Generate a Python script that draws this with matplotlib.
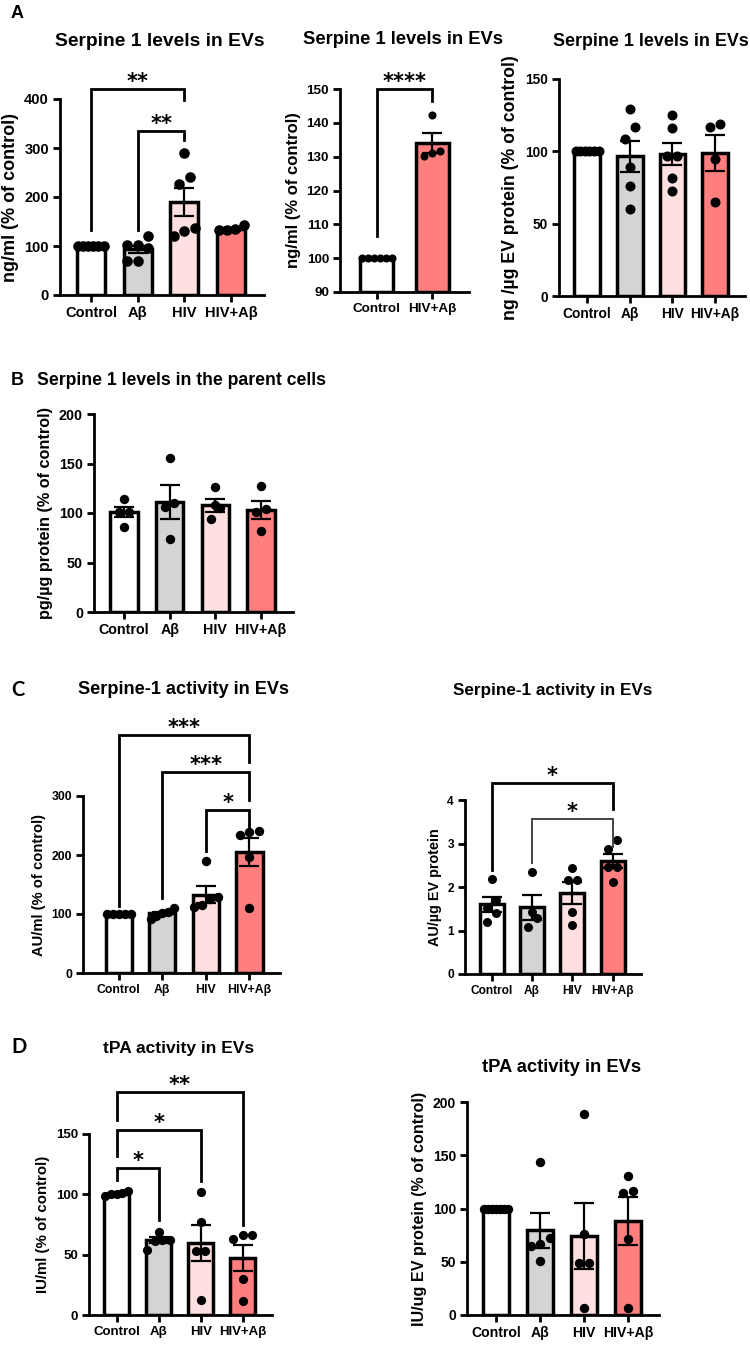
import numpy as np
import matplotlib
matplotlib.use("Agg")
import matplotlib.pyplot as plt

plt.rcParams["font.family"] = ["Liberation Sans", "DejaVu Sans"]
plt.rcParams["font.weight"] = "bold"

W, H = 750, 1348

GROUPS4 = ["Control", "Aβ", "HIV", "HIV+Aβ"]
GROUPS2 = ["Control", "HIV+Aβ"]
COL4 = ["#ffffff", "#d4d4d4", "#ffdfdf", "#ff7f7f"]
COL2 = ["#ffffff", "#ff7f7f"]

# --- A, left: Serpine 1 levels in EVs (ng/ml) ---
a1_mean = [100, 93, 190, 134]
a1_sem = [0, 8, 29, 3]
a1_pts = [[100] * 6,
          [120, 103, 103, 95, 69, 69],
          [289, 241, 227, 137, 131, 120],
          [143, 134, 132, 132]]

# --- A, middle: Control vs HIV+Abeta ---
a2_mean = [100, 134]
a2_sem = [0, 2.9]
a2_pts = [[100] * 6, [142.4, 131.8, 131.1, 130.3]]

# --- A, right: per ug EV protein ---
a3_mean = [100, 96.7, 98.1, 98.9]
a3_sem = [0, 10.7, 7.8, 12.3]
a3_pts = [[100] * 6,
          [129, 117, 108.5, 89.5, 75.7, 60],
          [125.3, 116.3, 96.5, 96.5, 81.5, 72.7],
          [119, 116.8, 94.6, 65.3]]

# --- B: parent cells ---
b_mean = [101, 111, 108, 103]
b_sem = [5, 17, 6.5, 9]
b_pts = [[114.5, 100.7, 100.7, 85.5],
         [155.2, 110, 105.7, 73.7],
         [126, 108.4, 105, 94],
         [127.6, 104.4, 100.7, 81.5]]

# --- C, left: Serpine-1 activity (AU/ml) ---
c1_mean = [100, 101, 133, 205]
c1_sem = [0, 3, 14, 24]
c1_pts = [[100] * 5,
          [111, 104, 101, 97, 92],
          [189, 128, 125, 115, 112],
          [241, 238.6, 234, 197.4, 111]]

# --- C, right: AU/ug EV protein ---
c2_mean = [1.6, 1.53, 1.86, 2.6]
c2_sem = [0.17, 0.28, 0.26, 0.17]
c2_pts = [[2.18, 1.70, 1.51, 1.41, 1.2],
          [2.34, 1.43, 1.28, 1.09],
          [2.44, 2.16, 2.16, 1.43, 1.13],
          [3.08, 2.87, 2.47, 2.47, 2.11]]

# --- D, left: tPA activity (IU/ml) ---
d1_mean = [100.5, 62, 59.5, 47.3]
d1_sem = [0.8, 2.5, 14.7, 11]
d1_pts = [[103, 101, 100, 100, 98.5],
          [69, 62, 62, 61, 54],
          [102, 77, 53, 53, 12.5],
          [65.9, 65.9, 62.8, 29.9, 11.9]]

# --- D, right: IU/ug EV protein ---
d2_mean = [100, 79.7, 73.8, 87.9]
d2_sem = [0, 16.5, 31, 22.5]
d2_pts = [[100] * 7,
          [143.8, 72, 67, 65, 50.6],
          [189, 76, 49, 49, 6.25],
          [130.3, 116.6, 115, 71.3, 6.25]]


def add_ax(fig, left, top, right, bottom):
    return fig.add_axes([left / W, 1 - bottom / H, (right - left) / W, (bottom - top) / H])


def spread(vals, d_y, d_x, half=0.27):
    """rows of dots: values closer than ~one marker (d_y) share a row and are
    spread sideways by d_x, capped to the bar width"""
    vals = np.asarray(vals, float)
    order = np.argsort(vals)
    off = np.zeros(len(vals))
    groups, grp = [], [order[0]]
    for i in order[1:]:
        if vals[i] - vals[grp[0]] < d_y:
            grp.append(i)
        else:
            groups.append(grp)
            grp = [i]
    groups.append(grp)
    for g in groups:
        k = len(g)
        if k > 1:
            step = min(d_x, 2 * half / (k - 1))
            off[g] = (np.arange(k) - (k - 1) / 2) * step
    return off


def bar_panel(ax, labels, means, sems, pts, colors, ylim, yticks, ylabel,
              bottom=0, ms=42, tick_fs=10, lab_fs=11, xlim=None):
    x = np.arange(len(labels))
    xlim = xlim or (-0.66, len(labels) - 0.3)
    ax.bar(x, np.array(means) - bottom, bottom=bottom, width=0.6, color=colors,
           edgecolor="k", linewidth=2.5, zorder=2)
    ax.errorbar(x, means, yerr=sems, fmt="none", ecolor="k", elinewidth=1.6,
                capsize=7, capthick=1.6, zorder=3)
    pos = ax.get_position()
    px_x = pos.width * W / (xlim[1] - xlim[0])
    px_y = pos.height * H / (ylim[1] - ylim[0])
    dia = np.sqrt(ms) * 100 / 72
    for i, p in enumerate(pts):
        off = spread(p, 1.25 * dia / px_y, 1.0 * dia / px_x)
        ax.scatter(i + off, p, s=ms, color="k", zorder=4, linewidths=0)
    ax.set_xlim(*xlim)
    ax.set_ylim(*ylim)
    ax.set_yticks(yticks)
    ax.set_xticks(x)
    ax.set_xticklabels(labels)
    for s in ["top", "right"]:
        ax.spines[s].set_visible(False)
    for s in ["left", "bottom"]:
        ax.spines[s].set_linewidth(2)
    ax.tick_params(width=2, length=5, labelsize=tick_fs, pad=3)
    ax.set_ylabel(ylabel, fontsize=lab_fs, fontweight="bold", labelpad=4)


def bracket(ax, x1, x2, y, y1, y2, label, lw=2, color="k", fs=15):
    ax.plot([x1, x1, x2, x2], [y1, y, y, y2], color=color, lw=lw,
            clip_on=False, solid_joinstyle="miter", zorder=5)
    ax.annotate(label, ((x1 + x2) / 2, y), xytext=(0, 1), textcoords="offset pixels",
                ha="center", va="baseline", fontsize=fs, fontweight="bold",
                annotation_clip=False, family="DejaVu Sans")


def ftext(x, y, s, size, ha="center", family=None):
    fig.text(x / W, 1 - y / H, s, fontsize=size, fontweight="bold", ha=ha,
             va="center", family=family or ["Liberation Sans", "DejaVu Sans"])


fig = plt.figure(figsize=(W / 100, H / 100), dpi=100)

# A
ax = add_ax(fig, 60, 99, 264, 295)
bar_panel(ax, GROUPS4, a1_mean, a1_sem, a1_pts, COL4, (0, 400), range(0, 401, 100),
          "ng/ml (% of control)", ms=58, tick_fs=10.5, lab_fs=13)
bracket(ax, 0, 2, 420, 133, 398, "**")
bracket(ax, 1, 2, 335, 133, 316, "**")

ax = add_ax(fig, 340, 89, 469, 292)
bar_panel(ax, GROUPS2, a2_mean, a2_sem, a2_pts, COL2, (90, 150), range(90, 151, 10),
          "ng/ml (% of control)", bottom=90, ms=34, tick_fs=9.7, lab_fs=12,
          xlim=(-0.67, 1.67))
bracket(ax, 0, 1, 150, 106.5, 146.4, "****")

ax = add_ax(fig, 559, 79, 745, 296)
bar_panel(ax, GROUPS4, a3_mean, a3_sem, a3_pts, COL4, (0, 150), range(0, 151, 50),
          "ng /µg EV protein (% of control)", ms=52, tick_fs=9.9, lab_fs=12.7)

# B
ax = add_ax(fig, 94, 414, 293, 612)
bar_panel(ax, GROUPS4, b_mean, b_sem, b_pts, COL4, (0, 200), range(0, 201, 50),
          "pg/µg protein (% of control)", ms=46, tick_fs=10.3, lab_fs=11.7)

# C
ax = add_ax(fig, 83, 796, 280, 973)
bar_panel(ax, GROUPS4, c1_mean, c1_sem, c1_pts, COL4, (0, 300), range(0, 301, 100),
          "AU/ml (% of control)", ms=46, tick_fs=8.8, lab_fs=10.6, xlim=(-0.82, 3.7))
bracket(ax, 0, 3, 404, 113, 358, "***")
bracket(ax, 1, 3, 341, 127, 293, "***")
bracket(ax, 2, 3, 277, 207, 245, "*")

ax = add_ax(fig, 465, 800, 641, 974)
bar_panel(ax, GROUPS4, c2_mean, c2_sem, c2_pts, COL4, (0, 4), range(0, 5),
          "AU/µg EV protein", ms=42, tick_fs=8.6, lab_fs=10.4)
bracket(ax, 0, 3, 4.38, 2.39, 3.79, "*")
bracket(ax, 1, 3, 3.56, 2.56, 2.93, "*", lw=1.4, color="#444444")

# D
ax = add_ax(fig, 89, 1134, 272, 1315)
bar_panel(ax, GROUPS4, d1_mean, d1_sem, d1_pts, COL4, (0, 150), range(0, 151, 50),
          "IU/ml (% of control)", ms=44, tick_fs=9.5, lab_fs=10.8)
bracket(ax, 0, 1, 121.8, 112, 78.9, "*")
bracket(ax, 0, 2, 153.6, 131.5, 110.7, "*")
bracket(ax, 0, 3, 184.6, 162, 74.7, "**")

ax = add_ax(fig, 467, 1102, 659, 1315)
bar_panel(ax, GROUPS4, d2_mean, d2_sem, d2_pts, COL4, (0, 200), range(0, 201, 50),
          "IU/ug EV protein (% of control)", ms=46, tick_fs=10.1, lab_fs=11.6)

# titles and panel letters
ftext(160, 41, "Serpine 1 levels in EVs", 13.9)
ftext(403, 40, "Serpine 1 levels in EVs", 13.2)
ftext(749, 41, "Serpine 1 levels in EVs", 12.9, ha="right")
ftext(37, 380, "Serpine 1 levels in the parent cells", 12.7, ha="left")
ftext(184, 690, "Serpine-1 activity in EVs", 13.1)
ftext(553, 691, "Serpine-1 activity in EVs", 12.3)
ftext(179, 1048, "tPA activity in EVs", 12.5)
ftext(562, 1067, "tPA activity in EVs", 13.2)

ftext(11, 14, "A", 13, ha="left")
ftext(11, 380, "B", 13, ha="left")
ftext(11, 690, "C", 14.5, ha="left", family="Lato")
ftext(11, 1047, "D", 14.5, ha="left", family="Lato")

fig.savefig("out.png", dpi=100)
